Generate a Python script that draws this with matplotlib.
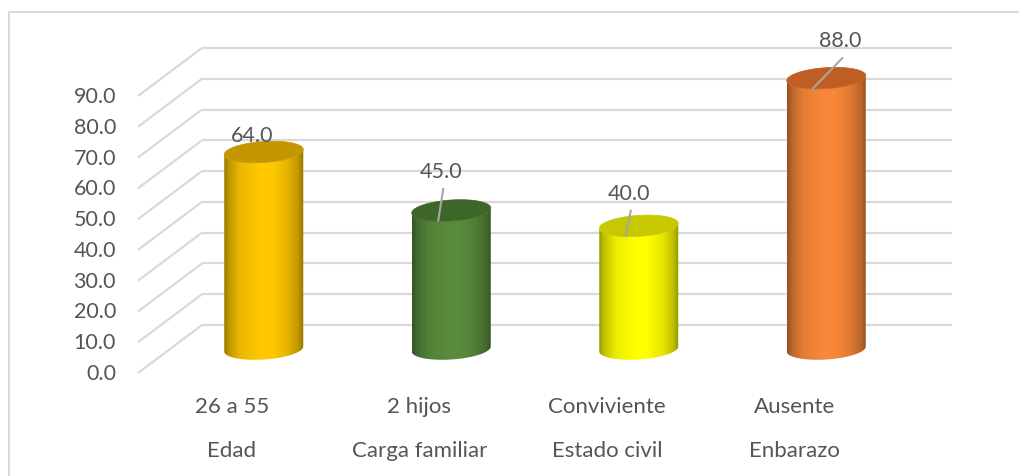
import numpy as np
import matplotlib
matplotlib.use("Agg")
import matplotlib.pyplot as plt
from matplotlib.path import Path
from matplotlib.patches import PathPatch, Polygon
from matplotlib.colors import to_rgb

# ---- data -----------------------------------------------------------------
categories = ["Edad", "Carga familiar", "Estado civil", "Enbarazo"]
sub_labels = ["26 a 55", "2 hijos", "Conviviente", "Ausente"]
values = [64.0, 45.0, 40.0, 88.0]
body_colors = ["#FFC800", "#5A8B3C", "#FFFF00", "#F8873A"]
top_colors = ["#C49600", "#3E6629", "#C8C800", "#BE5E22"]
yticks = [0, 10, 20, 30, 40, 50, 60, 70, 80, 90]

# ---- pseudo-3D layout (category units horizontally, value units vertically)
DX = 0.3413      # depth offset, back wall -> front, in category units
DY = 15.6        # depth offset in value units
RX = 0.2107      # cylinder half width
RB = 3.41        # ellipse half height
TILT = 0.81      # ellipse tilt (right side higher)

TEXT = "#555555"
GRID = "#D9D9D9"
FONT = "Lato"

fig = plt.figure(figsize=(10.19, 4.77), dpi=100)
ax = fig.add_axes([0, 0, 1, 1])
ax.set_xlim(-1.5773, 3.8573)
ax.set_ylim(-49.06, 105.91)
ax.axis("off")

n = len(categories)
x_back = np.arange(n, dtype=float)

# chart frame (left and top edges)
ax.plot([-1.5773 + 9 / 187.5, -1.5773 + 9 / 187.5, 3.8573],
        [-49.06, 105.91 - 13 / 3.078, 105.91 - 13 / 3.078],
        color=GRID, lw=1.4, zorder=0, solid_capstyle="butt")

# back-wall gridlines and side-wall diagonals
for t in yticks:
    ax.plot([-0.5, n - 0.5], [t, t], color=GRID, lw=1.6, zorder=1,
            solid_capstyle="butt")
    ax.plot([-0.5 - DX, -0.5], [t - DY, t], color=GRID, lw=1.6, zorder=1,
            solid_capstyle="butt")
    ax.text(-0.5 - DX - 22 / 187.5, t - DY, f"{t:.1f}", ha="right",
            va="center", fontsize=15.5, color=TEXT, family=FONT)

# horizontal shading profile of the cylinder surface
prof_u = [0.0, 0.06, 0.2, 0.45, 0.6, 0.8, 0.93, 1.0]
prof_f = [0.60, 0.75, 0.92, 1.0, 1.0, 0.90, 0.75, 0.58]
u = np.linspace(0, 1, 256)
shade = np.interp(u, prof_u, prof_f)


def ellipse_pts(cx, cv, t):
    return cx + RX * np.cos(t), cv + RB * np.sin(t) + TILT * np.cos(t)


for i in range(n):
    cx = x_back[i] - DX / 2
    vb = 0 - DY / 2
    vt = values[i] - DY / 2

    t_bot = np.linspace(np.pi, 2 * np.pi, 80)
    bx, by = ellipse_pts(cx, vb, t_bot)
    t_top = np.linspace(2 * np.pi, np.pi, 80)
    tx, ty = ellipse_pts(cx, vt, t_top)
    verts = np.column_stack([np.r_[bx, tx], np.r_[by, ty]])
    body = PathPatch(Path(np.vstack([verts, verts[:1]]), closed=True),
                     facecolor="none", edgecolor="none",
                     transform=ax.transData)
    ax.add_patch(body)

    base = np.array(to_rgb(body_colors[i]))
    grad = np.clip(shade[:, None] * base[None, :], 0, 1)[None, :, :]
    im = ax.imshow(grad, extent=[cx - RX, cx + RX, vb - RB - TILT - 1,
                                 vt + RB + TILT + 1],
                   aspect="auto", interpolation="bilinear", zorder=3)
    im.set_clip_path(body)

    # top face
    t_all = np.linspace(0, 2 * np.pi, 160)
    ex, ey = ellipse_pts(cx, vt, t_all)
    ax.add_patch(Polygon(np.column_stack([ex, ey]), closed=True,
                         facecolor=top_colors[i], edgecolor=top_colors[i],
                         lw=0.5, zorder=4))

# value labels with leader lines
label_dx = [-12, -10, -10, 14]      # px offsets from cylinder axis
label_dy = [17, 39.5, 33, 38]       # px above top-face centre
for i in range(n):
    cx = x_back[i] - DX / 2
    vt = values[i] - DY / 2
    lx = cx + label_dx[i] / 187.5
    ly = vt + label_dy[i] / 3.078
    ax.text(lx, ly, f"{values[i]:.1f}", ha="center", va="center",
            fontsize=15.5, color=TEXT, family=FONT, zorder=6)
    if label_dy[i] > 25:
        ax.plot([lx + 2 / 187.5, cx - 13 / 187.5],
                [ly - 18 / 3.078, vt - 10 / 3.078],
                color="#A6A6A6", lw=1.5, zorder=5)

# two-level category axis on the front edge
for i in range(n):
    xf = x_back[i] - DX
    ax.text(xf, -26.3, sub_labels[i], ha="center", va="center",
            fontsize=16, color=TEXT, family=FONT)
    ax.text(xf, -40.6, categories[i], ha="center", va="center",
            fontsize=16, color=TEXT, family=FONT)

fig.savefig("out.png", dpi=100)
